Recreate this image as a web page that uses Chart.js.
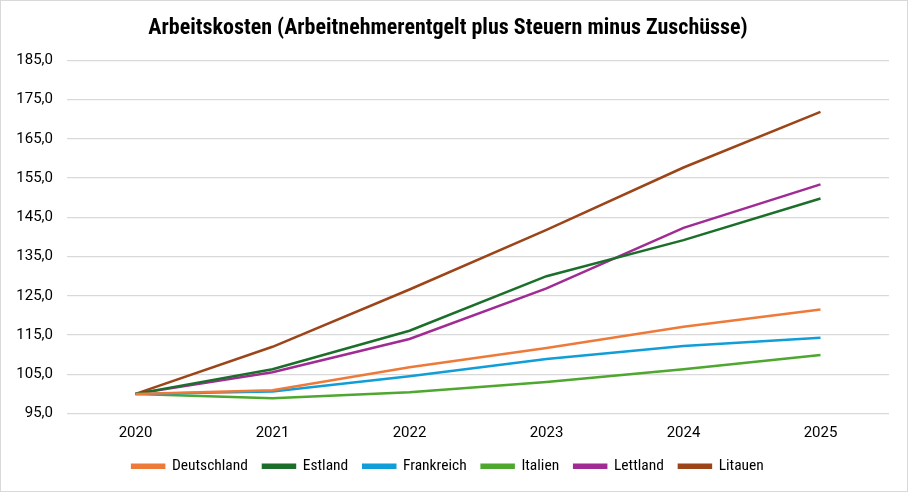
<!DOCTYPE html>
<html>
<head>
<meta charset="utf-8">
<script src="https://cdn.jsdelivr.net/npm/chart.js@4"></script>
<style>
  body { margin: 0; background: #fff; }
  #wrap { position: relative; width: 906px; height: 490px; border: 1px solid #d9d9d9; }
</style>
</head>
<body>
<div id="wrap"><canvas id="chart"></canvas></div>
<script>
// Data
const years = ['2020', '2021', '2022', '2023', '2024', '2025'];
const deutschland = [100.0, 100.9, 106.8, 111.7, 117.1, 121.5];
const estland     = [100.0, 106.3, 116.1, 130.0, 139.2, 149.8];
const frankreich  = [100.0, 100.6, 104.5, 108.9, 112.2, 114.3];
const italien     = [100.0, 98.9, 100.4, 103.0, 106.3, 109.9];
const lettland    = [100.0, 105.5, 114.0, 126.9, 142.3, 153.4];
const litauen     = [100.0, 112.0, 126.6, 141.8, 157.7, 171.9];

const narrow = "'Roboto Condensed', 'Liberation Sans Narrow', Roboto, sans-serif";
const plain = "Roboto, 'Open Sans', sans-serif";

function series(label, data, color) {
    return {
        label: label,
        data: data,
        borderColor: color,
        backgroundColor: color,
        borderWidth: 2.5,
        pointRadius: 0,
        tension: 0,
        fill: false
    };
}

new Chart(document.getElementById('chart'), {
    type: 'line',
    data: {
        labels: years,
        datasets: [
            series('Deutschland', deutschland, '#EE7A3A'),
            series('Estland', estland, '#1B6F2A'),
            series('Frankreich', frankreich, '#109ED8'),
            series('Italien', italien, '#4EA72E'),
            series('Lettland', lettland, '#A02B93'),
            series('Litauen', litauen, '#9C4519')
        ]
    },
    options: {
        responsive: true,
        maintainAspectRatio: false,
        animation: false,
        layout: { padding: { left: 6, right: 18, top: 4, bottom: 7 } },
        plugins: {
            title: {
                display: true,
                text: 'Arbeitskosten (Arbeitnehmerentgelt plus Steuern minus Zuschüsse)',
                color: '#000',
                font: { family: narrow, size: 22, weight: 'bold' },
                padding: { top: 10, bottom: 19 }
            },
            legend: {
                position: 'bottom',
                labels: {
                    color: '#000',
                    boxWidth: 32,
                    boxHeight: 3,
                    padding: 15,
                    font: { family: narrow, size: 15.5 }
                }
            },
            tooltip: { enabled: false }
        },
        scales: {
            x: {
                offset: true,
                afterFit: (scale) => { scale.height = 30; },
                grid: { display: false },
                border: { display: false },
                ticks: { color: '#000', padding: 3, font: { family: plain, size: 15 } }
            },
            y: {
                min: 95,
                max: 185,
                afterFit: (scale) => { scale.width = 60; },
                grid: { color: '#d9d9d9', lineWidth: 1.3, drawTicks: false },
                border: { display: false },
                ticks: {
                    stepSize: 10,
                    color: '#000',
                    padding: 14,
                    font: { family: plain, size: 15 },
                    callback: (v) => v.toFixed(1).replace('.', ',')
                }
            }
        }
    }
});
</script>
</body>
</html>
